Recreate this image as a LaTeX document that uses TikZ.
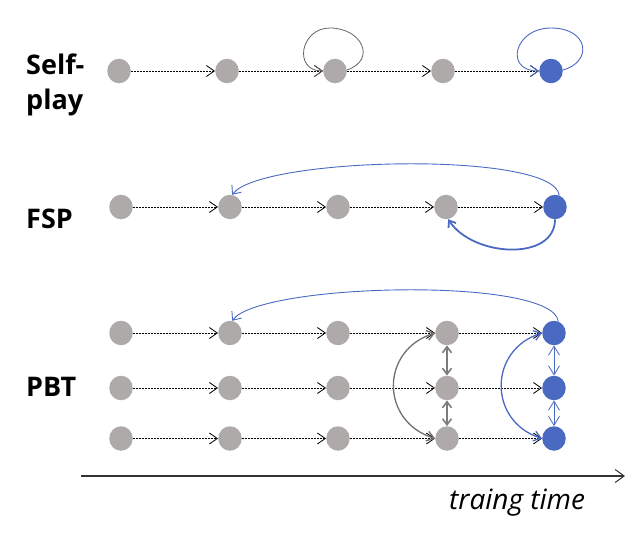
\documentclass[tikz,border=0pt]{standalone}
\usepackage{fontspec}
\setmainfont{Open Sans}
\usetikzlibrary{arrows.meta,shapes.geometric}
\definecolor{ngray}{HTML}{AEAAAA}
\definecolor{nblue}{HTML}{4A6AC2}
\definecolor{lgray}{HTML}{646464}
\definecolor{agray}{HTML}{707070}
\definecolor{vgray}{HTML}{7C7C7C}
\begin{document}
\begin{tikzpicture}[x=1pt,y=-1pt,
  gnode/.style={ellipse, fill=ngray, draw=none, minimum width=23.5pt, minimum height=24.5pt, inner sep=0pt},
  bnode/.style={gnode, fill=nblue},
  flow/.style={draw=black, line width=0.7pt, dash pattern=on 2pt off 1pt,
    -{Straight Barb[length=8pt,width=11pt,line width=0.8pt]}},
  lab/.style={font=\fontsize{27}{32}\selectfont\bfseries, anchor=base west, inner sep=0pt},
  grayloop/.style={draw=lgray, line width=0.8pt, -{Straight Barb[length=8pt,width=11pt,line width=0.8pt]}},
  blueloop/.style={draw=nblue, line width=0.9pt, -{Straight Barb[length=8pt,width=11pt,line width=0.9pt]}},
  bluearc/.style={draw=nblue, line width=0.9pt, -{Straight Barb[length=7pt,width=12pt,line width=0.9pt]}},
  bluearcthick/.style={draw=nblue, line width=1.8pt, -{Straight Barb[length=6pt,width=9pt,line width=1.8pt]}},
  grayarc/.style={draw=agray, line width=1.3pt, {Straight Barb[length=7pt,width=10pt,line width=1.3pt]}-{Straight Barb[length=7pt,width=10pt,line width=1.3pt]}},
  bluebend/.style={draw=nblue, line width=1.3pt, {Straight Barb[length=7pt,width=10pt,line width=1.3pt]}-{Straight Barb[length=7pt,width=10pt,line width=1.3pt]}},
  grayvert/.style={draw=vgray, line width=1.8pt, {Straight Barb[length=6pt,width=9pt,line width=1.6pt]}-{Straight Barb[length=6pt,width=9pt,line width=1.6pt]}},
  bluevert/.style={draw=nblue, line width=0.8pt, {Straight Barb[length=9pt,width=11pt,line width=0.8pt]}-{Straight Barb[length=9pt,width=11pt,line width=0.8pt]}},
  axisline/.style={draw=black!80, line width=1.1pt, -{Straight Barb[length=9pt,width=13pt,line width=1pt]}}
]
\useasboundingbox (0,0) rectangle (638,533);

% labels
\node[lab] (lself) at (26,74) {Self-};
\node[lab] (lplay) at (26,109) {play};
\node[lab] (lfsp) at (26,228) {FSP};
\node[lab] (lpbt) at (26,396) {PBT};

% self-play row
\node[gnode] (s1) at (119,71) {};
\node[gnode] (s2) at (227,71) {};
\node[gnode] (s3) at (335,71) {};
\node[gnode] (s4) at (443,71) {};
\node[bnode] (s5) at (551,71) {};

% FSP row
\node[gnode] (f1) at (121,207) {};
\node[gnode] (f2) at (230,207) {};
\node[gnode] (f3) at (338,207) {};
\node[gnode] (f4) at (446,207) {};
\node[bnode] (f5) at (555,207) {};

% PBT rows
\foreach \r/\y in {1/333,2/388,3/438.5}{
  \node[gnode] (p\r1) at (121,\y) {};
  \node[gnode] (p\r2) at (230,\y) {};
  \node[gnode] (p\r3) at (338,\y) {};
  \node[gnode] (p\r4) at (447,\y) {};
  \node[bnode] (p\r5) at (554,\y) {};
}

% flows
\foreach \a/\b in {s1/s2,s2/s3,s3/s4,s4/s5,f1/f2,f2/f3,f3/f4,f4/f5,
  p11/p12,p12/p13,p13/p14,p14/p15,p21/p22,p22/p23,p23/p24,p24/p25,p31/p32,p32/p33,p33/p34,p34/p35}{
  \draw[flow] (\a.east) -- (\b.west);
}

% self-play loops
\draw[grayloop] (s3.5) .. controls +(30,-10) and +(32,0) .. ([xshift=-5pt,yshift=43pt]s3.center)
  .. controls +(-30,0) and +(-30,0) .. (s3.west);
\draw[blueloop] (s5.5) .. controls +(30,-8) and +(38,0) .. ([yshift=43pt]s5.center)
  .. controls +(-37,0) and +(-35,0) .. (s5.west);

% FSP arcs
\draw[bluearc] (f5.70) .. controls +(-5,-45) and +(28,-38) .. (f2.80);
\draw[bluearcthick] (f5.south) .. controls +(0,42) and +(25,38) .. (f4.-80);

% PBT arcs
\draw[bluearc] (p15.70) .. controls +(-5,-45) and +(28,-38) .. (p12.80);
\draw[grayarc] (p14.west) .. controls +(-55,17) and +(-55,-17) .. (p34.west);
\draw[bluebend] (p15.west) .. controls +(-54,17) and +(-54,-17) .. (p35.west);
\draw[grayvert] (p14.south) -- (p24.north);
\draw[grayvert] (p24.south) -- (p34.north);
\draw[bluevert] (p15.south) -- (p25.north);
\draw[bluevert] (p25.south) -- (p35.north);

% time axis
\coordinate (ax0) at (81,476);
\coordinate (ax1) at (625,476);
\draw[axisline] (ax0) -- (ax1);
\node[font=\fontsize{28}{32}\selectfont\itshape, anchor=base west, inner sep=0pt] (ttime) at (449,509) {traing time};
\end{tikzpicture}
\end{document}
